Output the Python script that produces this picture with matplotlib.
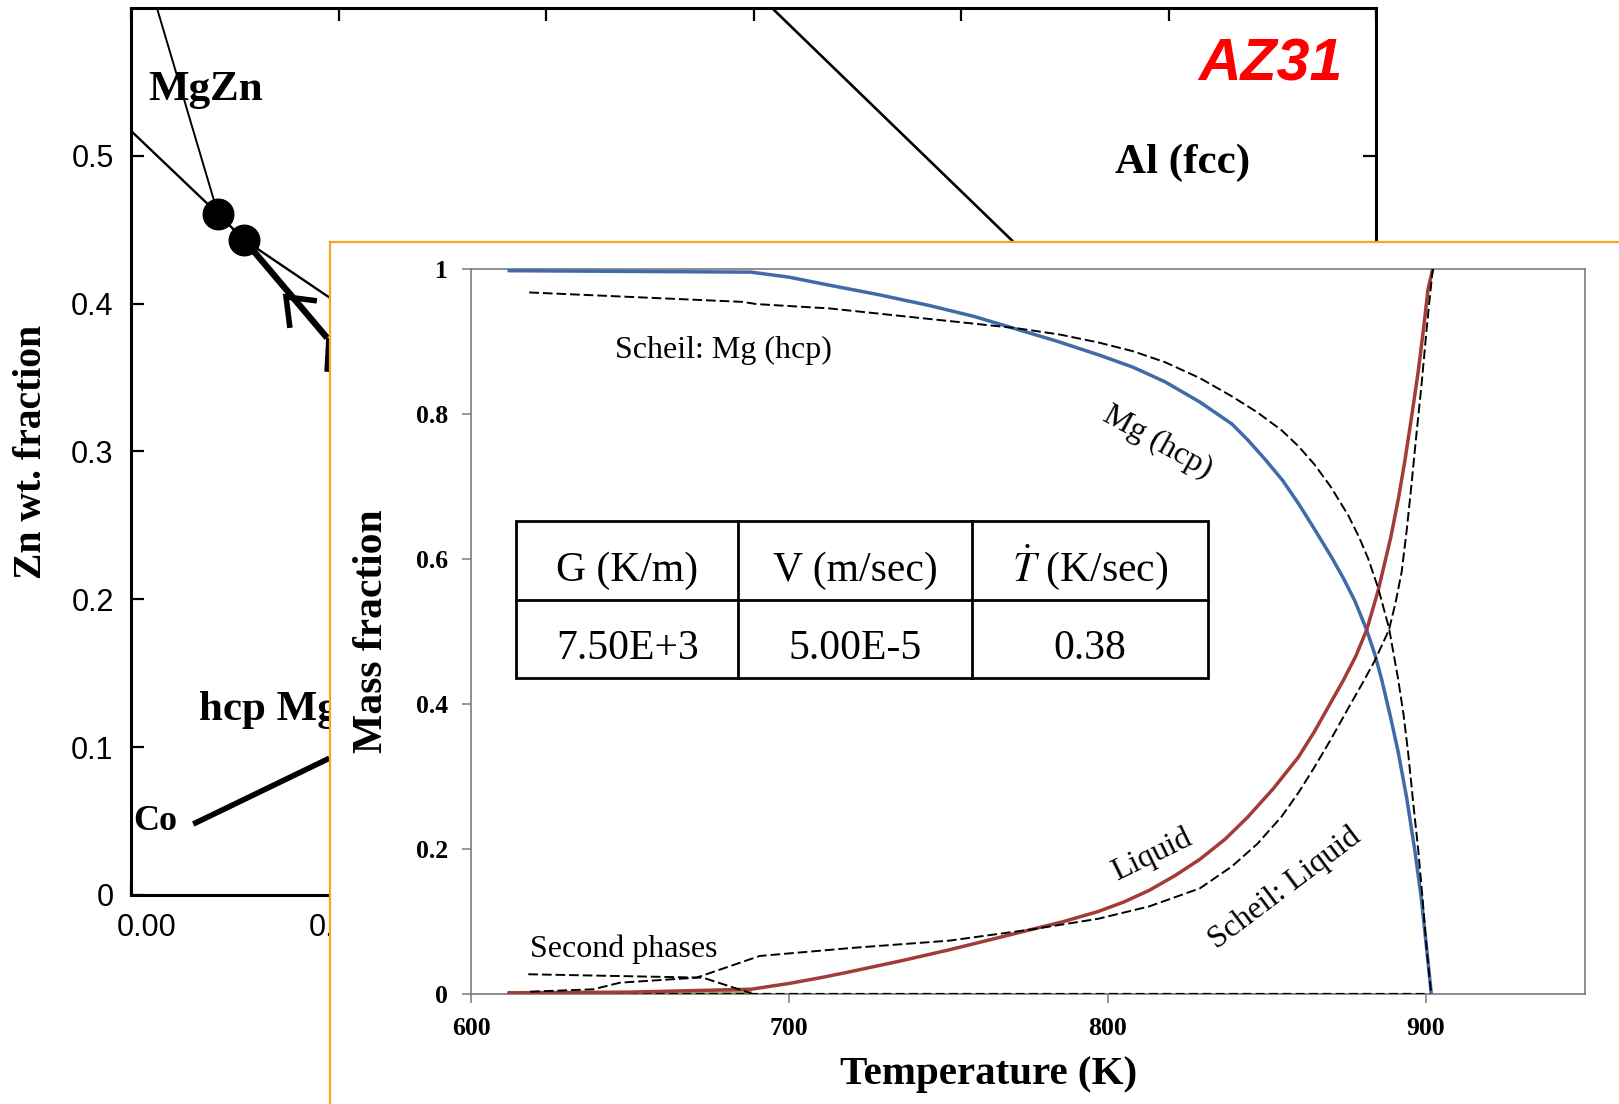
import matplotlib
matplotlib.use("Agg")
import matplotlib.pyplot as plt
import matplotlib.transforms as mtransforms
from matplotlib.patches import Rectangle
from matplotlib.lines import Line2D

plt.rcParams['mathtext.fontset'] = 'stix'
SERIF = 'Liberation Serif'
SANS = 'Liberation Sans'

# ---------------- background phase diagram data ----------------
bg_xticks = [0.0, 0.1, 0.2, 0.3, 0.4, 0.5, 0.6]
# labels beyond 0.10 are hidden behind the inset panel in the reference
bg_xticklabels = ['0.00', '0.10', '', '', '', '', '']
bg_yticks = [0.0, 0.1, 0.2, 0.3, 0.4, 0.5]
bg_yticklabels = ['0', '0.1', '0.2', '0.3', '0.4', '0.5']

steep_x = [0.0125, 0.0419]
steep_y = [0.600, 0.4608]
tie_x = [0.0, 0.0419, 0.0545, 0.0959]
tie_y = [0.5169, 0.4608, 0.4432, 0.4039]
path_x = [0.0545, 0.0945]
path_y = [0.4432, 0.3769]
path2_x = [0.0954, 0.0945]
path2_y = [0.3769, 0.3539]
arrow_x = [0.0896, 0.0747, 0.0766]
arrow_y = [0.4019, 0.4046, 0.3836]
co_x = [0.0300, 0.0956]
co_y = [0.0480, 0.0925]
al_x = [0.3089, 0.4246]
al_y = [0.600, 0.4427]
dots_x = [0.0419, 0.0545]
dots_y = [0.4608, 0.4432]

# ---------------- inset (mass fraction vs temperature) data ----------------
in_xticks = [600, 700, 800, 900]
in_yticks = [0.0, 0.2, 0.4, 0.6, 0.8, 1.0]
in_yticklabels = ['0', '0.2', '0.4', '0.6', '0.8', '1']

mg_T = [612, 688, 700, 712.6, 728, 744, 758, 771, 784, 797.2, 808, 818, 829, 839, 844, 849.5,
        855, 860, 865, 870.4, 874, 877.7, 881.4, 884, 886.1, 889, 891.3, 894, 896.5, 898.5,
        900.2, 901.7]
mg_frac = [0.997, 0.995, 0.988, 0.977, 0.964, 0.949, 0.934, 0.917, 0.900, 0.881, 0.864, 0.844,
           0.816, 0.786, 0.764, 0.737, 0.708, 0.676, 0.641, 0.602, 0.574, 0.542, 0.502, 0.468,
           0.434, 0.380, 0.334, 0.270, 0.199, 0.135, 0.065, 0.001]

liq_T = [612, 650, 688, 700, 710, 719, 735, 750, 762, 774, 786, 797, 805, 813, 821, 829, 837,
         844, 852, 860, 865, 870, 874, 878, 881.4, 885, 889, 891.5, 893.4, 895.5, 897.6, 899.3,
         900.7, 902.2]
liq_frac = [0.002, 0.003, 0.007, 0.015, 0.023, 0.031, 0.046, 0.061, 0.074, 0.087, 0.100, 0.114,
            0.127, 0.143, 0.163, 0.186, 0.214, 0.244, 0.283, 0.327, 0.362, 0.401, 0.432, 0.466,
            0.502, 0.556, 0.630, 0.686, 0.735, 0.795, 0.858, 0.918, 0.972, 1.0]

sch_mg_T = [618.3, 685.4, 689.6, 712.6, 771, 785, 797.2, 808, 818, 829, 839, 847, 854.7, 860,
            865, 870, 875.6, 879, 881.9, 885, 888.4, 891.3, 893, 894.4, 896, 897.6, 899, 900.2,
            901.7]
sch_mg_frac = [0.967, 0.954, 0.951, 0.945, 0.918, 0.909, 0.898, 0.886, 0.871, 0.849, 0.824, 0.802,
               0.777, 0.755, 0.730, 0.700, 0.660, 0.630, 0.600, 0.560, 0.505, 0.434, 0.385, 0.334,
               0.265, 0.199, 0.130, 0.065, 0.0]

sch_liq_T = [618.6, 638.4, 646.8, 670.8, 690.7, 720, 750.2, 776.4, 797, 813, 829, 839, 847, 854.7,
             860, 865, 870, 875.6, 880, 884, 888.4, 890.5, 892.4, 894, 895.5, 897, 898.6, 900,
             901.2, 902.2]
sch_liq_frac = [0.0036, 0.0069, 0.016, 0.0229, 0.0528, 0.064, 0.0739, 0.0896, 0.104, 0.121, 0.146,
                0.176, 0.207, 0.245, 0.278, 0.313, 0.350, 0.394, 0.428, 0.460, 0.502, 0.540, 0.582,
                0.640, 0.703, 0.770, 0.838, 0.905, 0.959, 1.0]

sec_T = [618.0, 672.9, 688.0]
sec_frac = [0.0276, 0.0229, 0.0014]

zero_T = [612, 902]
zero_frac = [0.0, 0.0]
teal_T = [612, 626]
teal_frac = [0.0, 0.0]
green_T = [612, 688]
green_frac = [0.003, 0.003]
bk_T = [618, 640]
bk_frac = [0.002, 0.002]

table_header = ['G (K/m)', 'V (m/sec)', r'$\dot{T}$ (K/sec)']
table_values = ['7.50E+3', '5.00E-5', '0.38']

# ---------------- figure ----------------
W, H = 1619, 1104
fig = plt.figure(figsize=(W / 100, H / 100), dpi=100)


def fr(l, t, r, b):
    return [l / W, 1 - b / H, (r - l) / W, (b - t) / H]


# background axes
ax = fig.add_axes(fr(131, 8, 1376, 895))
ax.set_xlim(0, 0.6)
ax.set_ylim(0, 0.6)
for s in ax.spines.values():
    s.set_linewidth(2.2)
    s.set_color('black')
ax.set_xticks(bg_xticks)
ax.set_xticklabels(bg_xticklabels, family=SANS, fontsize=22)
ax.set_yticks(bg_yticks)
ax.set_yticklabels(bg_yticklabels, family=SANS, fontsize=22)
ax.tick_params(direction='in', length=9.4, width=1.6, top=True, right=True)
ax.tick_params(axis='y', pad=12.5)
ax.tick_params(axis='x', pad=13)
lab0 = ax.get_xticklabels()[0]
lab0.set_transform(lab0.get_transform() + mtransforms.ScaledTranslation(16 / 100, 0, fig.dpi_scale_trans))
ax.set_ylabel('Zn wt. fraction', family=SERIF, fontweight='bold', fontsize=28.5, va='center')
ax.yaxis.set_label_coords(-0.0803, 0.5)

ax.plot(steep_x, steep_y, color='black', lw=1.4)
ax.plot(tie_x, tie_y, color='black', lw=1.7)
ax.plot(path_x, path_y, color='black', lw=4.6, solid_capstyle='butt')
ax.plot(path2_x, path2_y, color='black', lw=4.0, solid_capstyle='butt')
ax.plot(arrow_x, arrow_y, color='black', lw=4.0, solid_joinstyle='miter', solid_capstyle='butt')
ax.plot(co_x, co_y, color='black', lw=4.0, solid_capstyle='butt')
ax.plot(al_x, al_y, color='black', lw=1.9)
ax.plot(dots_x, dots_y, 'o', color='black', ms=22)

ax.text(0.0359, 0.5448, 'MgZn', ha='center', va='center', fontsize=31, fontweight='bold', family=SERIF)
ax.text(0.5066, 0.4952, 'Al (fcc)', ha='center', va='center', fontsize=31, fontweight='bold', family=SERIF)
ax.text(0.5489, 0.5616, 'AZ31', ha='center', va='center', fontsize=42.5, fontweight='bold',
        style='italic', family=SANS, color='#ff0000')
ax.text(0.0328, 0.1252, 'hcp Mg', ha='left', va='center', fontsize=31, fontweight='bold', family=SERIF)
ax.text(0.001, 0.0496, 'Co', ha='left', va='center', fontsize=26, fontweight='bold', family=SERIF)

# orange-framed panel
pan = fig.add_axes(fr(330, 242, W + 10, H + 10))
pan.set_facecolor('white')
pan.set_xticks([])
pan.set_yticks([])
for k in ['right', 'bottom']:
    pan.spines[k].set_visible(False)
for k in ['left', 'top']:
    pan.spines[k].set_color('#F5A623')
    pan.spines[k].set_linewidth(1.6)

# inset axes
ins = fig.add_axes(fr(471, 268.5, 1585, 994.3))
ins.set_xlim(600, 950)
ins.set_ylim(0, 1)
for s in ins.spines.values():
    s.set_color('#7a7a7a')
    s.set_linewidth(1.2)
ins.set_xticks(in_xticks)
ins.set_xticklabels([str(t) for t in in_xticks], family=SERIF, fontweight='bold', fontsize=18.5)
ins.set_yticks(in_yticks)
ins.set_yticklabels(in_yticklabels, family=SERIF, fontweight='bold', fontsize=18.5)
ins.tick_params(direction='out', length=6.5, width=1.1, color='#7a7a7a', pad=10)
ins.set_xlabel('Temperature (K)', family=SERIF, fontweight='bold', fontsize=29.5, va='center')
ins.xaxis.set_label_coords(0.465, -0.11)
ins.set_ylabel('Mass fraction', family=SERIF, fontweight='bold', fontsize=30, va='center')
ins.yaxis.set_label_coords(-0.0889, 0.5)

BLUE = '#3F6CA8'
RED = '#A33B39'
ins.plot(zero_T, zero_frac, color='#4BACC6', lw=1.8, ls=(0, (1, 1)), zorder=2)
ins.plot(teal_T, teal_frac, color='#31859C', lw=3.5, zorder=2)
ins.plot(green_T, green_frac, color='#9BBB59', lw=1.5, zorder=2)
ins.plot(zero_T, zero_frac, color='black', lw=1.6, ls=(0, (4, 2)), zorder=3)
ins.plot(bk_T, bk_frac, color='black', lw=2.6, ls=(0, (3, 1.5)), zorder=3)
ins.plot(mg_T, mg_frac, color=BLUE, lw=2.5, zorder=4, solid_joinstyle='round')
ins.plot(liq_T, liq_frac, color=RED, lw=2.5, zorder=4, solid_joinstyle='round')
ins.plot(sch_mg_T, sch_mg_frac, color='black', lw=1.4, ls=(0, (5, 2)), zorder=5)
ins.plot(sch_liq_T, sch_liq_frac, color='black', lw=1.4, ls=(0, (5, 2)), zorder=5)
ins.plot(sec_T, sec_frac, color='black', lw=1.4, ls=(0, (5, 2)), zorder=5)

ins.text(645.2, 0.8877, 'Scheil: Mg (hcp)', ha='left', va='center', fontsize=23, family=SERIF)
ins.text(618.6, 0.0624, 'Second phases', ha='left', va='center', fontsize=23, family=SERIF)
ins.text(815.6, 0.761, 'Mg (hcp)', ha='center', va='center', fontsize=23, family=SERIF,
         rotation=-29, rotation_mode='anchor')
ins.text(813.9, 0.192, 'Liquid', ha='center', va='center', fontsize=23, family=SERIF,
         rotation=26, rotation_mode='anchor')
ins.text(855.8, 0.1454, 'Scheil: Liquid', ha='center', va='center', fontsize=23, family=SERIF,
         rotation=37, rotation_mode='anchor')

# parameter table (axes coordinates of the inset)
tx0, tx1 = 0.0404, 0.6613
col_edges = [0.0404, 0.2400, 0.4497, 0.6613]
ty_top, ty_mid, ty_bot = 0.6521, 0.5429, 0.4362
ins.add_patch(Rectangle((tx0, ty_bot), tx1 - tx0, ty_top - ty_bot, transform=ins.transAxes,
                        facecolor='white', edgecolor='black', lw=2.0, zorder=6))
ins.add_line(Line2D([tx0, tx1], [ty_mid, ty_mid], transform=ins.transAxes, color='black', lw=2.0, zorder=7))
for cx in col_edges[1:-1]:
    ins.add_line(Line2D([cx, cx], [ty_bot, ty_top], transform=ins.transAxes, color='black', lw=2.0, zorder=7))
for i in range(3):
    xc = 0.5 * (col_edges[i] + col_edges[i + 1])
    ins.text(xc, 0.5694, table_header[i], transform=ins.transAxes, ha='center', va='baseline',
             fontsize=30, family=SERIF, zorder=8)
    ins.text(xc, 0.4616, table_values[i], transform=ins.transAxes, ha='center', va='baseline',
             fontsize=30, family=SERIF, zorder=8)

fig.savefig('out.png', dpi=100)
